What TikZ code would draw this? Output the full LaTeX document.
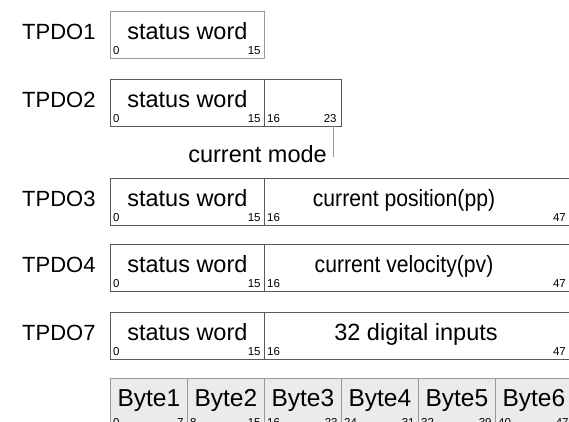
\documentclass[tikz,border=0pt]{standalone}
\usepackage{fontspec}
\usepackage{graphicx}
\setmainfont{Liberation Sans}
\usetikzlibrary{calc}
\definecolor{dk}{gray}{0.35}
\definecolor{lt}{gray}{0.6}
\definecolor{bytefill}{gray}{0.92}
\begin{document}
\begin{tikzpicture}[x=1pt,y=-1pt,
  cell/.style={draw=dk, line width=0.8pt, inner sep=0pt, anchor=north west, minimum height=47pt},
  lcell/.style={cell, draw=lt},
  bcell/.style={cell, draw=lt, fill=bytefill, minimum height=52pt, minimum width=77pt},
  lbl/.style={font=\fontsize{22}{24}\selectfont, inner sep=0pt, anchor=base west},
  main/.style={font=\fontsize{23.5}{26}\selectfont, inner sep=0pt, anchor=base},
  num/.style={font=\fontsize{11.5}{13}\selectfont, inner sep=0pt},
  conn/.style={draw=lt, line width=0.8pt}]
\useasboundingbox (0,0) rectangle (569,421);
\clip (0,0) rectangle (569,421);

% TPDO1
\node[lbl] (l1) at (22,39) {TPDO1};
\node[lcell, minimum width=154pt] (t1a) at (110,11) {};
\node[main] (t1at) at ([yshift=19pt]t1a.south) {status word};
\node[num, anchor=base west] (t1a0) at ([xshift=3pt,yshift=4pt]t1a.south west) {0};
\node[num, anchor=base east] (t1a1) at ([xshift=-4pt,yshift=4pt]t1a.south east) {15};

% TPDO2
\node[lbl] (l2) at (22,107) {TPDO2};
\node[cell, minimum width=154pt] (t2a) at (110,79) {};
\node[cell, minimum width=77pt] (t2b) at (264,79) {};
\node[main] (t2at) at ([yshift=19pt]t2a.south) {status word};
\node[num, anchor=base west] (t2a0) at ([xshift=3pt,yshift=4pt]t2a.south west) {0};
\node[num, anchor=base east] (t2a1) at ([xshift=-4pt,yshift=4pt]t2a.south east) {15};
\node[num, anchor=base west] (t2b0) at ([xshift=3pt,yshift=4pt]t2b.south west) {16};
\node[num, anchor=base east] (t2b1) at ([xshift=-5pt,yshift=4pt]t2b.south east) {23};
\node[main, anchor=base east] (cm) at (327,162) {current mode};
\coordinate (cmtop) at (333,126);
\coordinate (cmend) at (333,157);
\draw[conn] (cmtop) -- (cmend);

% TPDO3
\node[lbl] (l3) at (22,206) {TPDO3};
\node[cell, minimum width=154pt] (t3a) at (110,178) {};
\node[cell, minimum width=310pt] (t3b) at (264,178) {};
\node[main] (t3at) at ([yshift=19pt]t3a.south) {status word};
\node[main] (t3bt) at (404,206) {\scalebox{0.9}[1]{current position(pp)}};
\node[num, anchor=base west] (t3a0) at ([xshift=3pt,yshift=4pt]t3a.south west) {0};
\node[num, anchor=base east] (t3a1) at ([xshift=-4pt,yshift=4pt]t3a.south east) {15};
\node[num, anchor=base west] (t3b0) at ([xshift=3pt,yshift=4pt]t3b.south west) {16};
\node[num, anchor=base east] (t3b1) at (566,221) {47};

% TPDO4
\node[lbl] (l4) at (22,272) {TPDO4};
\node[cell, minimum width=154pt] (t4a) at (110,244) {};
\node[cell, minimum width=310pt] (t4b) at (264,244) {};
\node[main] (t4at) at ([yshift=19pt]t4a.south) {status word};
\node[main] (t4bt) at (404,272) {\scalebox{0.9}[1]{current velocity(pv)}};
\node[num, anchor=base west] (t4a0) at ([xshift=3pt,yshift=4pt]t4a.south west) {0};
\node[num, anchor=base east] (t4a1) at ([xshift=-4pt,yshift=4pt]t4a.south east) {15};
\node[num, anchor=base west] (t4b0) at ([xshift=3pt,yshift=4pt]t4b.south west) {16};
\node[num, anchor=base east] (t4b1) at (566,287) {47};

% TPDO7
\node[lbl] (l7) at (22,340) {TPDO7};
\node[cell, minimum width=154pt] (t7a) at (110,312) {};
\node[cell, minimum width=310pt] (t7b) at (264,312) {};
\node[main] (t7at) at ([yshift=19pt]t7a.south) {status word};
\node[main] (t7bt) at (416,340) {32 digital inputs};
\node[num, anchor=base west] (t7a0) at ([xshift=3pt,yshift=4pt]t7a.south west) {0};
\node[num, anchor=base east] (t7a1) at ([xshift=-4pt,yshift=4pt]t7a.south east) {15};
\node[num, anchor=base west] (t7b0) at ([xshift=3pt,yshift=4pt]t7b.south west) {16};
\node[num, anchor=base east] (t7b1) at (566,355) {47};

% Bytes
\foreach \i/\lo/\hi [evaluate=\i as \xx using {110+77*(\i-1)}] in {1/0/7,2/8/15,3/16/23,4/24/31,5/32/39,6/40/47}{
  \node[bcell] (b\i) at (\xx,378) {};
  \node[main, font=\fontsize{24.5}{26}\selectfont] (b\i t) at ([yshift=24pt]b\i.south) {Byte\i};
  \node[num, anchor=base west] (b\i lo) at ([xshift=3pt,yshift=4pt]b\i.south west) {\lo};
  \node[num, anchor=base east] (b\i hi) at ([xshift=-4pt,yshift=4pt]b\i.south east) {\hi};
}
\end{tikzpicture}
\end{document}
